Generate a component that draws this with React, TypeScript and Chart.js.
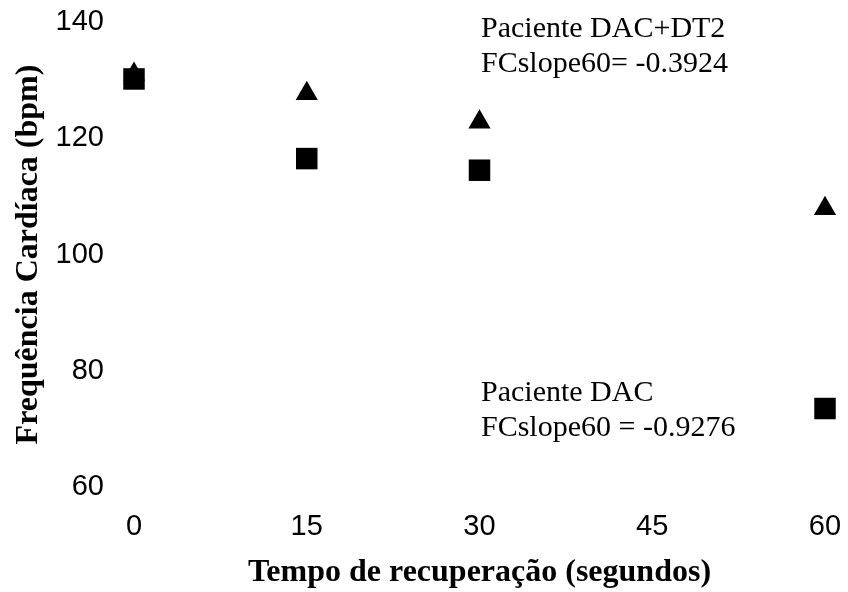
import React, { useEffect, useRef } from "react";
import { Chart, registerables } from "chart.js";

Chart.register(...registerables);

const xTicks = [0, 15, 30, 45, 60];
const dacDt2X = [0, 15, 30, 60];
const dacDt2Y = [131, 127.7, 122.8, 107.9];
const dacX = [0, 15, 30, 60];
const dacY = [130.2, 116.5, 114.5, 73.5];
const label1 = ["Paciente DAC+DT2", "FCslope60= -0.3924"];
const label2 = ["Paciente DAC", "FCslope60 = -0.9276"];

const annotations = {
  id: "annot",
  afterDatasetsDraw(chart: any) {
    const { ctx } = chart;
    ctx.save();
    ctx.fillStyle = "#000";
    ctx.font = "30px 'Liberation Serif', 'Times New Roman', serif";
    ctx.textAlign = "left";
    ctx.textBaseline = "middle";
    const x0 = 481;
    ctx.fillText(label1[0], x0, 29);
    ctx.fillText(label1[1], x0, 64);
    ctx.fillText(label2[0], x0, 393);
    ctx.fillText(label2[1], x0, 428);
    ctx.restore();
  },
};

export default function App() {
  const ref = useRef<HTMLCanvasElement>(null);
  useEffect(() => {
    document.body.style.margin = "0";
    const chart = new Chart(ref.current!, {
      type: "scatter",
      data: {
        datasets: [
          {
            label: "Paciente DAC",
            data: dacX.map((x, i) => ({ x, y: dacY[i] })),
            pointStyle: "rect",
            pointRadius: 15.2,
            backgroundColor: "#000",
            borderColor: "#000",
            borderWidth: 0,
            clip: false,
          },
          {
            label: "Paciente DAC+DT2",
            data: dacDt2X.map((x, i) => ({ x, y: dacDt2Y[i] })),
            pointStyle: "triangle",
            pointRadius: 12.8,
            backgroundColor: "#000",
            borderColor: "#000",
            borderWidth: 0,
            clip: false,
          },
        ],
      },
      options: {
        animation: false,
        responsive: false,
        maintainAspectRatio: false,
        layout: { autoPadding: false, padding: { top: 22, right: 23, left: 0, bottom: 0 } },
        plugins: { legend: { display: false }, tooltip: { enabled: false } },
        scales: {
          x: {
            type: "linear",
            min: 0,
            max: 60,
            afterBuildTicks: (s: any) => {
              s.ticks = xTicks.map((v) => ({ value: v }));
            },
            afterFit: (s: any) => {
              s.height = 105;
              s.paddingLeft = 0;
              s.paddingRight = 0;
              s.paddingTop = 0;
              s.paddingBottom = 0;
            },
            grid: { display: false, drawTicks: false },
            border: { display: false },
            ticks: {
              color: "#000",
              padding: 23,
              font: { family: "'Liberation Sans', Arial, sans-serif", size: 29 },
            },
            title: {
              display: true,
              text: "Tempo de recuperação (segundos)",
              color: "#000",
              padding: { top: 0, bottom: 0 },
              font: { family: "'Liberation Serif', 'Times New Roman', serif", size: 32, weight: "bold" },
            },
          },
          y: {
            type: "linear",
            min: 60,
            max: 140,
            ticks: {
              stepSize: 20,
              color: "#000",
              padding: 30,
              font: { family: "'Liberation Sans', Arial, sans-serif", size: 29 },
            },
            afterFit: (s: any) => {
              s.width = 134;
              s.paddingLeft = 0;
              s.paddingRight = 0;
              s.paddingTop = 0;
              s.paddingBottom = 0;
            },
            grid: { display: false, drawTicks: false },
            border: { display: false },
            title: {
              display: true,
              text: "Frequência Cardíaca (bpm)",
              color: "#000",
              padding: { top: 10, bottom: 0 },
              font: { family: "'Liberation Serif', 'Times New Roman', serif", size: 32, weight: "bold" },
            },
          },
        },
      },
      plugins: [annotations],
    });
    return () => chart.destroy();
  }, []);
  return (
    <div style={{ width: 848, height: 592 }}>
      <canvas ref={ref} width={848} height={592} style={{ display: "block" }} />
    </div>
  );
}
